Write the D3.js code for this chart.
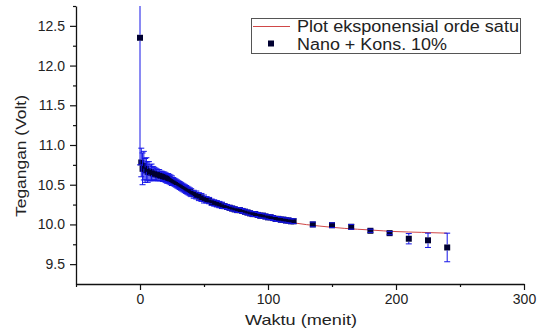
<!DOCTYPE html>
<html>
<head>
<meta charset="utf-8">
<script src="https://cdn.jsdelivr.net/npm/d3@7"></script>
<style>
  body { margin: 0; background: #fff; }
  svg { font-family: "Liberation Sans", Arial, sans-serif; }
</style>
</head>
<body>
<div id="chart"></div>
<script>
// measured data (minutes, volts, error)
var times = [0, 1, 2, 3, 4, 5, 6, 7, 8, 9, 10, 11, 12, 13, 14, 15, 16, 17, 18, 19, 20,
  21, 22, 23, 24, 25, 26, 27, 28, 29, 30, 31, 32, 33, 34, 35, 36, 37, 38, 39, 40,
  42, 44, 46, 48, 50, 52, 54, 56, 58, 60, 62, 64, 66, 68, 70, 72, 74, 76, 78, 80,
  82, 84, 86, 88, 90, 92, 94, 96, 98, 100, 102, 104, 106, 108, 110, 112, 114, 116, 118, 120,
  135, 150, 165, 180, 195, 210, 225, 240];
var volts = [12.35, 10.78, 10.70, 10.74, 10.68, 10.70, 10.66, 10.67, 10.65, 10.66, 10.64,
  10.64, 10.63, 10.63, 10.62, 10.62, 10.61, 10.61, 10.60, 10.60, 10.59,
  10.58, 10.58, 10.57, 10.56, 10.55, 10.54, 10.53, 10.52, 10.51, 10.50,
  10.49, 10.48, 10.47, 10.46, 10.45, 10.44, 10.43, 10.42, 10.41, 10.40,
  10.38, 10.37, 10.35, 10.34, 10.32, 10.31, 10.30, 10.28, 10.27, 10.26,
  10.25, 10.24, 10.23, 10.22, 10.21, 10.20, 10.19, 10.18, 10.18, 10.17,
  10.16, 10.15, 10.14, 10.13, 10.13, 10.12, 10.11, 10.11, 10.10, 10.09,
  10.09, 10.08, 10.07, 10.07, 10.06, 10.06, 10.05, 10.05, 10.04, 10.04,
  10.00, 9.99, 9.97, 9.92, 9.89, 9.82, 9.80, 9.71];
var errs = [1.6, 0.18, 0.2, 0.18, 0.15, 0.14, 0.13, 0.12, 0.1, 0.1, 0.09,
  0.08, 0.08, 0.07, 0.07, 0.07, 0.06, 0.06, 0.06, 0.06, 0.06,
  0.06, 0.06, 0.06, 0.06, 0.06, 0.05, 0.05, 0.05, 0.05, 0.05,
  0.05, 0.05, 0.05, 0.05, 0.05, 0.05, 0.05, 0.05, 0.05, 0.05,
  0.05, 0.05, 0.05, 0.05, 0.05, 0.04, 0.04, 0.04, 0.04, 0.04,
  0.04, 0.04, 0.03, 0.03, 0.03, 0.03, 0.03, 0.03, 0.03, 0.03,
  0.03, 0.03, 0.03, 0.03, 0.03, 0.03, 0.03, 0.03, 0.03, 0.03,
  0.03, 0.03, 0.03, 0.03, 0.03, 0.03, 0.03, 0.03, 0.03, 0.03,
  0.03, 0.03, 0.03, 0.02, 0.02, 0.065, 0.09, 0.18];

// first order exponential fit
var fitT = [0, 10, 20, 30, 40, 50, 60, 70, 80, 90, 100, 110, 120, 140, 160, 180, 200, 220, 240];
var fitV = [10.74, 10.64, 10.55, 10.47, 10.39, 10.32, 10.26, 10.21, 10.16, 10.12, 10.08,
  10.05, 10.02, 9.98, 9.95, 9.93, 9.91, 9.90, 9.89];

var xMajor = [0, 100, 200, 300];
var xMinor = [-50, 50, 150, 250];
var yMajor = [9.5, 10.0, 10.5, 11.0, 11.5, 12.0, 12.5];
var yMinor = [9.75, 10.25, 10.75, 11.25, 11.75, 12.25, 12.75];

var legendLabels = ["Plot eksponensial orde satu", "Nano + Kons. 10%"];

var W = 541, H = 330;
var mLeft = 76, mRight = 524, mTop = 6, mBottom = 284;

var svg = d3.select("#chart").append("svg")
  .attr("width", W).attr("height", H);

var x = d3.scaleLinear().domain([-50, 300]).range([mLeft, mRight]);
var y = d3.scaleLinear().domain([9.25, 12.75]).range([mBottom, mTop]);

svg.append("clipPath").attr("id", "plotclip")
  .append("rect").attr("x", mLeft).attr("y", mTop)
  .attr("width", mRight - mLeft).attr("height", mBottom - mTop);

var plot = svg.append("g").attr("clip-path", "url(#plotclip)");

// fit line (behind the points)
var fitData = fitT.map(function(t, i) { return [t, fitV[i]]; });
plot.append("path")
  .datum(fitData)
  .attr("fill", "none")
  .attr("stroke", "#d04848")
  .attr("stroke-width", 1)
  .attr("d", d3.line()
    .x(function(d) { return x(d[0]); })
    .y(function(d) { return y(d[1]); })
    .curve(d3.curveMonotoneX));

var pts = times.map(function(t, i) { return {t: t, v: volts[i], e: errs[i]}; });
var sz = 6;

// squares
plot.selectAll("rect.pt")
  .data(pts)
  .enter().append("rect")
  .attr("class", "pt")
  .attr("x", function(d) { return x(d.t) - sz / 2; })
  .attr("y", function(d) { return y(d.v) - sz / 2; })
  .attr("width", sz).attr("height", sz)
  .attr("fill", "#000030");

// error bars, drawn over the symbols
var eb = plot.append("g")
  .attr("stroke", "#1414e8")
  .attr("stroke-width", 1)
  .attr("fill", "none");
pts.forEach(function(d) {
  var cx = x(d.t), cy = y(d.v);
  var yt = y(d.v + d.e), yb = y(d.v - d.e);
  var path = "";
  if (cy - sz / 2 > yt) path += "M" + cx + "," + yt + "V" + (cy - sz / 2);
  if (cy + sz / 2 < yb) path += "M" + cx + "," + (cy + sz / 2) + "V" + yb;
  path += "M" + (cx - 3) + "," + yt + "H" + (cx + 3);
  path += "M" + (cx - 3) + "," + yb + "H" + (cx + 3);
  eb.append("path").attr("d", path);
});

// axes
svg.append("g")
  .attr("transform", "translate(0," + mBottom + ")")
  .call(d3.axisBottom(x).tickValues(xMajor).tickSize(6).tickSizeOuter(0).tickPadding(4));
svg.append("g")
  .attr("transform", "translate(0," + mBottom + ")")
  .call(d3.axisBottom(x).tickValues(xMinor).tickSize(3).tickSizeOuter(0).tickFormat(""))
  .select(".domain").remove();

svg.append("g")
  .attr("transform", "translate(" + mLeft + ",0)")
  .call(d3.axisLeft(y).tickValues(yMajor).tickSize(6).tickSizeOuter(0).tickPadding(5)
    .tickFormat(d3.format(".1f")));
svg.append("g")
  .attr("transform", "translate(" + mLeft + ",0)")
  .call(d3.axisLeft(y).tickValues(yMinor).tickSize(3).tickSizeOuter(0).tickFormat(""))
  .select(".domain").remove();

svg.selectAll(".domain").attr("stroke", "#111").attr("stroke-width", 1.3);
svg.selectAll(".tick line").attr("stroke", "#111").attr("stroke-width", 1.2);
svg.selectAll(".tick text").attr("font-size", 14).attr("fill", "#222")
  .attr("font-family", "Liberation Sans, Arial, sans-serif");

// axis titles
svg.append("text")
  .attr("x", 301).attr("y", 325)
  .attr("text-anchor", "middle")
  .attr("font-size", 15).attr("fill", "#222")
  .attr("textLength", 112).attr("lengthAdjust", "spacingAndGlyphs")
  .text("Waktu (menit)");

svg.append("text")
  .attr("transform", "translate(26,156) rotate(-90)")
  .attr("text-anchor", "middle")
  .attr("font-size", 15).attr("fill", "#222")
  .attr("textLength", 122).attr("lengthAdjust", "spacingAndGlyphs")
  .text("Tegangan (Volt)");

// legend
var lg = svg.append("g");
lg.append("rect")
  .attr("x", 251.5).attr("y", 18.5).attr("width", 269).attr("height", 35)
  .attr("fill", "#fff").attr("stroke", "#555").attr("stroke-width", 1);
lg.append("line")
  .attr("x1", 253).attr("x2", 290).attr("y1", 26.5).attr("y2", 26.5)
  .attr("stroke", "#d04848").attr("stroke-width", 1);
lg.append("rect")
  .attr("x", 268).attr("y", 40.5).attr("width", 6).attr("height", 6)
  .attr("fill", "#000030");
var lgLens = [222, 150];
lg.selectAll("text.lg")
  .data(legendLabels)
  .enter().append("text")
  .attr("class", "lg")
  .attr("x", 297)
  .attr("y", function(d, i) { return 32 + i * 18; })
  .attr("font-size", 16).attr("fill", "#222")
  .attr("textLength", function(d, i) { return lgLens[i]; })
  .attr("lengthAdjust", "spacingAndGlyphs")
  .text(function(d) { return d; });
</script>
</body>
</html>
